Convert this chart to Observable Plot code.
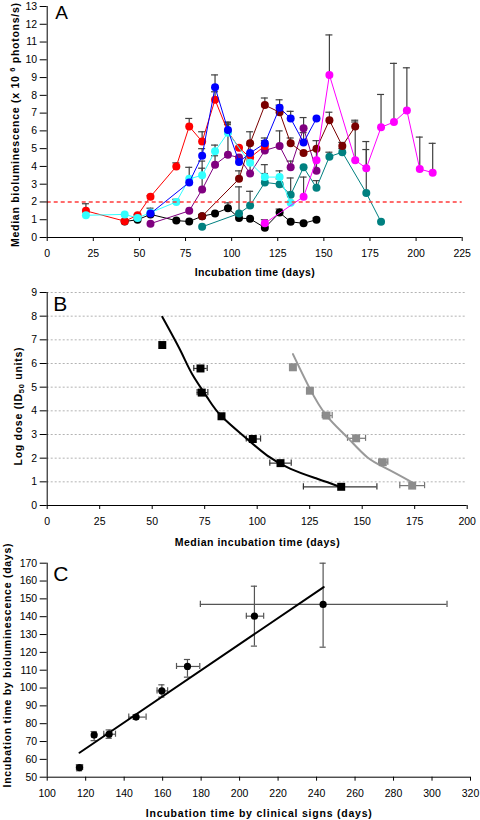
<!DOCTYPE html>
<html><head><meta charset="utf-8">
<script src="https://cdn.jsdelivr.net/npm/d3@7"></script>
<script src="https://cdn.jsdelivr.net/npm/@observablehq/plot@0.6"></script>
<style>
body{margin:0;background:#fff;}
#chart{width:480px;}
#chart svg{display:block;}
</style></head><body><div id="chart"></div>
<script>
// ---------- Panel A data ----------
const redDays = [21, 42, 49, 56, 70, 77, 84, 91, 98, 104, 110, 118];
const redVals = [1.5, 0.92, 1.25, 2.3, 4.0, 6.25, 5.4, 7.75, 5.95, 5.05, 4.5, 5.15];
const redTops = [1.9, 1.0, 1.3, 2.35, 4.2, 6.7, 5.95, 8.2, 6.5, 5.1, null, null];

const blueDays = [56, 77, 84, 91, 98, 104, 110, 118, 126, 132, 139, 146];
const blueVals = [1.35, 3.1, 4.6, 8.45, 6.05, 4.25, 4.75, 5.3, 7.3, 6.7, 5.35, 6.7];
const blueTops = [1.65, null, 5.0, 9.15, 6.45, null, 5.2, 5.6, 7.75, 7.1, 5.9, null];

const cyanDays = [21, 42, 49, 56, 70, 77, 84, 91, 98, 110, 118, 126, 132];
const cyanVals = [1.25, 1.3, 1.1, 1.4, 2.0, 3.3, 3.5, 4.85, 5.9, 4.2, 3.4, 3.4, 1.95];
const cyanTops = [null, null, null, null, 2.15, 3.95, 4.3, 5.2, 6.35, null, 4.1, 3.75, null];

const purpleDays = [56, 77, 84, 91, 98, 104, 110, 118, 126, 132, 139, 146];
const purpleVals = [0.78, 1.5, 2.7, 4.1, 4.65, 4.5, 3.6, 4.9, 5.15, 3.95, 6.15, 3.75];
const purpleTops = [null, null, 3.9, 4.6, 6.45, null, 4.3, 5.45, 6.0, 4.3, 6.75, 4.95];

const maroonDays = [84, 104, 110, 118, 126, 132, 139, 146, 153, 160, 167];
const maroonVals = [1.2, 3.3, 5.3, 7.45, 7.05, 5.3, 4.75, 5.0, 6.6, 5.15, 6.25];
const maroonTops = [1.3, 3.75, 5.95, 7.85, 7.45, 5.6, null, 5.45, 7.05, 5.35, 6.6];

const blackDays = [42, 49, 56, 70, 77, 84, 91, 98, 104, 110, 118, 126, 132, 139, 146];
const blackVals = [0.9, 1.0, 1.3, 0.95, 0.9, 1.2, 1.35, 1.65, 1.1, 1.05, 0.55, 1.4, 0.88, 0.8, 1.0];
const blackTops = [null, null, null, null, null, null, null, 1.95, null, null, null, 1.6, null, null, 1.1];

const tealDays = [84, 104, 110, 118, 126, 132, 139, 146, 153, 160, 173, 181];
const tealVals = [0.6, 1.35, 1.8, 3.1, 3.0, 2.4, 3.95, 2.8, 4.55, 4.8, 2.5, 0.88];
const tealTops = [null, 2.85, 2.6, 3.6, 3.3, 3.35, null, 3.2, 4.8, 5.0, 4.95, null];

const magentaDays = [118, 139, 146, 153, 167, 173, 181, 188, 195, 202, 209];
const magentaVals = [0.8, 2.3, 4.35, 9.15, 4.35, 3.9, 6.2, 6.5, 7.15, 3.85, 3.65];
const magentaTops = [1.0, 3.4, 4.9, 11.4, 6.5, 5.4, 8.05, 9.8, 9.55, 5.65, 5.3];

const thresholdA = [2];
const ticksAx = [0, 25, 50, 75, 100, 125, 150, 175, 200, 225];
const ticksAy = [0,1,2,3,4,5,6,7,8,9,10,11,12,13];

// ---------- Panel B data ----------
const bBlackX = [54.8, 73.0, 73.6, 83.0, 97.9, 111.1, 140.0];
const bBlackY = [6.78, 5.79, 4.77, 3.77, 2.81, 1.79, 0.79];
const bBlackLo = [54.0, 69.8, 71.4, 82.0, 94.8, 106.0, 122.0];
const bBlackHi = [55.6, 76.2, 76.5, 84.0, 101.6, 116.2, 157.0];
const bGrayX = [117.0, 125.1, 133.0, 147.1, 159.8, 173.8];
const bGrayY = [5.84, 4.85, 3.80, 2.84, 1.83, 0.84];
const bGrayLo = [116.2, 124.3, 131.0, 143.0, 157.9, 167.9];
const bGrayHi = [117.8, 125.9, 135.7, 151.6, 162.2, 179.7];
const bBlackCurveX = [54.8, 63.5, 69, 76.2, 83, 95.2, 104.8, 115.9, 128.6, 140];
const bBlackCurveY = [7.97, 6.54, 5.56, 4.57, 3.77, 2.81, 2.11, 1.55, 1.13, 0.77];
const bGrayCurveX = [117, 125, 133, 142.9, 152.4, 161.9, 173.8];
const bGrayCurveY = [6.4, 4.95, 3.8, 2.88, 2.04, 1.55, 0.98];
const ticksBx = [0, 25, 50, 75, 100, 125, 150, 175, 200];
const ticksBy = [0,1,2,3,4,5,6,7,8,9];
const gridBy = [1,2,3,4,5,6,7,8,9];

// ---------- Panel C data ----------
const cX = [116.8, 124.4, 132.2, 146.2, 159.6, 172.9, 207.7, 243.4];
const cY = [55.4, 73.6, 74.1, 83.7, 98.4, 112.1, 140.3, 146.9];
const cXLo = [115.2, 123.2, 129.4, 142.4, 157.1, 167.2, 203.5, 179.6];
const cXHi = [118.4, 125.6, 135.5, 151.4, 162.6, 179.3, 212.5, 307.8];
const cYLo = [53.6, 70.5, 71.8, 82.5, 94.9, 106.1, 123.5, 122.9];
const cYHi = [57.0, 75.6, 76.5, 85.0, 101.8, 116.0, 157.1, 170.0];
const cFitX = [116.8, 243.7];
const cFitY = [63.7, 156.6];
const ticksCx = [100,120,140,160,180,200,220,240,260,280,300,320];
const ticksCy = [50,60,70,80,90,100,110,120,130,140,150,160,170];

// ---------- text ----------
const titleAx = "Incubation time (days)";
const titleAy = "Median bioluminescence (x 10 6 photons/s)";
const titleBx = "Median incubation time (days)";
const titleBy = "Log dose (ID50 units)";
const titleCx = "Incubation time by clinical signs (days)";
const titleCy = "Incubation time by bioluminescence (days)";

// ---------- build ----------
const FONT = "Liberation Sans, Arial, sans-serif";
const baseStyle = {fontFamily: FONT, fontSize: "10.5px", color: "#000", background: "#fff", overflow: "visible"};
const ERR = "#404040";

const aSeries = {
  black: [blackDays, blackVals, blackTops],
  teal: [tealDays, tealVals, tealTops],
  purple: [purpleDays, purpleVals, purpleTops],
  maroon: [maroonDays, maroonVals, maroonTops],
  red: [redDays, redVals, redTops],
  cyan: [cyanDays, cyanVals, cyanTops],
  magenta: [magentaDays, magentaVals, magentaTops],
  blue: [blueDays, blueVals, blueTops]
};
const aColors = {black:"#000000", teal:"#008080", purple:"#800080", maroon:"#7a0000", red:"#ff0000", cyan:"#33ffff", magenta:"#ff00ff", blue:"#0000ff"};
const rowsA = Object.keys(aSeries).flatMap(name => {
  const [days, vals, tops] = aSeries[name];
  return days.map((day, i) => ({series: name, day, val: vals[i], top: tops[i]}));
});
const errA = rowsA.filter(d => d.top != null);

function yTitle(text, x, marginLeft, dy) {
  return Plot.text([text], {text: d => d, frameAnchor: "left", dx: x - marginLeft, dy, rotate: -90,
    textAnchor: "middle", lineAnchor: "middle", fontWeight: "bold", fontSize: 10.5});
}
function xTitle(text, dy) {
  return Plot.text([text], {text: d => d, frameAnchor: "bottom", dy, textAnchor: "middle", lineAnchor: "middle", fontWeight: "bold", fontSize: 10.5});
}
function letter(t, dx, dy, size) {
  return Plot.text([t], {text: d => d, frameAnchor: "top-left", dx, dy, textAnchor: "start", lineAnchor: "middle", fontSize: size});
}

const plotA = Plot.plot({
  width: 480, height: 280,
  marginLeft: 46.7, marginRight: 18.3, marginTop: 6, marginBottom: 43,
  style: baseStyle,
  x: {domain: [0, 225]},
  y: {domain: [0, 13]},
  marks: [
    Plot.ruleX(errA, {x: "day", y1: "val", y2: "top", stroke: ERR, strokeWidth: 1.2}),
    Plot.ruleY(errA, {y: "top", x1: d => d.day - 1.9, x2: d => d.day + 1.9, stroke: ERR, strokeWidth: 1.2}),
    ...Object.keys(aSeries).flatMap(name => {
      const data = rowsA.filter(d => d.series === name);
      return [
        Plot.line(data, {x: "day", y: "val", stroke: aColors[name], strokeWidth: 1}),
        Plot.dot(data, {x: "day", y: "val", r: 4, fill: aColors[name], stroke: "none"})
      ];
    }),
    Plot.ruleY(thresholdA, {stroke: "#ff3b3b", strokeWidth: 1.4, strokeDasharray: "4,3"}),
    Plot.ruleX([0], {stroke: "#000"}),
    Plot.ruleY([0], {stroke: "#000"}),
    Plot.axisX({ticks: ticksAx, tickSize: 4, tickPadding: 8, label: null}),
    Plot.axisY({ticks: ticksAy, tickSize: 7, tickPadding: 3, label: null}),
    xTitle(titleAx, 35),
    yTitle(titleAy, 15, 46.7, 3),
    letter("A", 8, 6, 19)
  ]
});

const bBlackRows = bBlackX.map((x, i) => ({x, y: bBlackY[i], lo: bBlackLo[i], hi: bBlackHi[i]}));
const bGrayRows = bGrayX.map((x, i) => ({x, y: bGrayY[i], lo: bGrayLo[i], hi: bGrayHi[i]}));
const bBlackCurve = bBlackCurveX.map((x, i) => ({x, y: bBlackCurveY[i]}));
const bGrayCurve = bGrayCurveX.map((x, i) => ({x, y: bGrayCurveY[i]}));

function hErr(rows, color) {
  return [
    Plot.ruleY(rows, {y: "y", x1: "lo", x2: "hi", stroke: color, strokeWidth: 1.2}),
    Plot.ruleX(rows, {x: "lo", y1: d => d.y - 0.13, y2: d => d.y + 0.13, stroke: color, strokeWidth: 1.2}),
    Plot.ruleX(rows, {x: "hi", y1: d => d.y - 0.13, y2: d => d.y + 0.13, stroke: color, strokeWidth: 1.2})
  ];
}

const plotB = Plot.plot({
  width: 480, height: 270,
  marginLeft: 46.7, marginRight: 13.3, marginTop: 12, marginBottom: 45,
  style: baseStyle,
  x: {domain: [0, 200]},
  y: {domain: [0, 9]},
  marks: [
    Plot.ruleY(gridBy, {stroke: "#a0a0a0", strokeWidth: 0.8, strokeDasharray: "2,2"}),
    ...hErr(bBlackRows, "#333"),
    ...hErr(bGrayRows, "#777"),
    Plot.line(bBlackCurve, {x: "x", y: "y", curve: "natural", stroke: "#000", strokeWidth: 2}),
    Plot.line(bGrayCurve, {x: "x", y: "y", curve: "natural", stroke: "#999", strokeWidth: 2}),
    Plot.dot(bBlackRows, {x: "x", y: "y", symbol: "square", r: 4.5, fill: "#000", stroke: "none"}),
    Plot.dot(bGrayRows, {x: "x", y: "y", symbol: "square", r: 4.5, fill: "#8c8c8c", stroke: "none"}),
    Plot.ruleX([0], {stroke: "#000"}),
    Plot.ruleY([0], {stroke: "#000"}),
    Plot.axisX({ticks: ticksBx, tickSize: 4, tickPadding: 8, label: null}),
    Plot.axisY({ticks: ticksBy, tickSize: 7, tickPadding: 3, label: null}),
    xTitle(titleBx, 37),
    yTitle(titleBy, 18, 46.7, 7.5),
    letter("B", 6, 12, 21)
  ]
});

const cRows = cX.map((x, i) => ({x, y: cY[i], xlo: cXLo[i], xhi: cXHi[i], ylo: cYLo[i], yhi: cYHi[i]}));
const cFit = cFitX.map((x, i) => ({x, y: cFitY[i]}));
const CE = "#555";
const plotC = Plot.plot({
  width: 480, height: 270,
  marginLeft: 46.7, marginRight: 10, marginTop: 12.7, marginBottom: 43.3,
  style: baseStyle,
  x: {domain: [100, 320]},
  y: {domain: [50, 170]},
  marks: [
    Plot.ruleY(cRows, {y: "y", x1: "xlo", x2: "xhi", stroke: CE, strokeWidth: 1.2}),
    Plot.ruleX(cRows, {x: "xlo", y1: d => d.y - 1.7, y2: d => d.y + 1.7, stroke: CE, strokeWidth: 1.2}),
    Plot.ruleX(cRows, {x: "xhi", y1: d => d.y - 1.7, y2: d => d.y + 1.7, stroke: CE, strokeWidth: 1.2}),
    Plot.ruleX(cRows, {x: "x", y1: "ylo", y2: "yhi", stroke: CE, strokeWidth: 1.2}),
    Plot.ruleY(cRows, {y: "ylo", x1: d => d.x - 1.6, x2: d => d.x + 1.6, stroke: CE, strokeWidth: 1.2}),
    Plot.ruleY(cRows, {y: "yhi", x1: d => d.x - 1.6, x2: d => d.x + 1.6, stroke: CE, strokeWidth: 1.2}),
    Plot.line(cFit, {x: "x", y: "y", stroke: "#000", strokeWidth: 2}),
    Plot.dot(cRows, {x: "x", y: "y", r: 3.6, fill: "#000", stroke: "none"}),
    Plot.ruleX([100], {stroke: "#000"}),
    Plot.ruleY([50], {stroke: "#000"}),
    Plot.axisX({ticks: ticksCx, tickSize: 4, tickPadding: 8, label: null}),
    Plot.axisY({ticks: ticksCy, tickSize: 7, tickPadding: 3, label: null}),
    xTitle(titleCx, 36),
    yTitle(titleCy, 7.5, 46.7, -4.7),
    letter("C", 6, 11.5, 21)
  ]
});

// Fit title lengths to the reference and add super/subscripts as tspans
function styleTitle(svg, text, len, parts) {
  d3.select(svg).selectAll("text").filter(function() { return this.textContent === text; }).each(function() {
    const t = d3.select(this);
    if (parts) {
      t.text(null);
      parts.forEach(p => {
        const ts = t.append("tspan").text(p.t);
        if (p.dy) ts.attr("dy", p.dy);
        if (p.fs) ts.attr("font-size", p.fs);
      });
    }
    t.attr("textLength", len).attr("lengthAdjust", "spacing");
  });
}
styleTitle(plotA, titleAx, 120);
styleTitle(plotA, titleAy, 244, [
  {t: "Median bioluminescence (x 10 "}, {t: "6", dy: -4, fs: 7.5}, {t: " photons/s)", dy: 4}
]);
styleTitle(plotB, titleBx, 165);
styleTitle(plotB, titleBy, 118, [
  {t: "Log dose (ID"}, {t: "50", dy: 2.5, fs: 7.5}, {t: " units)", dy: -2.5}
]);
styleTitle(plotC, titleCx, 226);
styleTitle(plotC, titleCy, 244);

const root = document.getElementById("chart");
root.append(plotA, plotB, plotC);
</script></body></html>
